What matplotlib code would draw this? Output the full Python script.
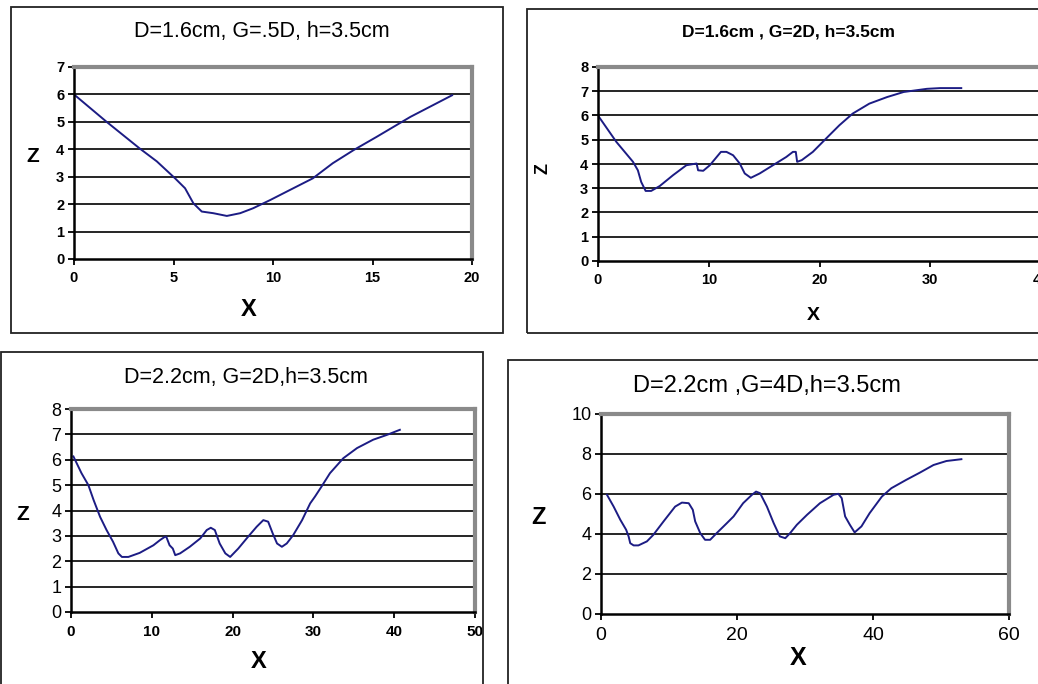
import matplotlib
matplotlib.use("Agg")
import matplotlib.pyplot as plt
from matplotlib.patches import Rectangle

plt.rcParams['font.family'] = ['Liberation Sans', 'DejaVu Sans']

W, H = 1038, 684

# scour profiles, x vs z
x1 = [0, 1.64, 3.3, 4.16, 5.08, 5.58, 6.0, 6.42, 7.0, 7.68, 8.35, 9.0, 9.86,
      10.86, 12.0, 13.0, 14.05, 15.2, 16.9, 19.0]
z1 = [6.0, 5.0, 4.03, 3.56, 2.94, 2.58, 2.03, 1.73, 1.67, 1.57, 1.67, 1.85, 2.15,
      2.52, 2.94, 3.49, 3.97, 4.45, 5.18, 5.97]

x2 = [0, 1.66, 3.16, 3.6, 3.9, 4.3, 4.8, 5.57, 6.78, 7.98, 8.9, 9.04, 9.5, 10.1,
      11.1, 11.6, 12.2, 12.8, 13.25, 13.8, 14.6, 15.8, 17.0, 17.6, 17.86, 17.98,
      18.4, 19.4, 20.9, 21.8, 23.0, 24.5, 26.1, 27.6, 29.7, 30.9, 32.8]
z2 = [6.0, 4.91, 4.09, 3.74, 3.26, 2.89, 2.89, 3.09, 3.54, 3.95, 4.02, 3.74, 3.72,
      3.95, 4.5, 4.5, 4.36, 4.02, 3.61, 3.43, 3.61, 3.95, 4.29, 4.5, 4.5, 4.09,
      4.16, 4.5, 5.19, 5.6, 6.08, 6.49, 6.76, 6.97, 7.1, 7.13, 7.13]

x3 = [0.3, 1.3, 2.15, 2.8, 3.6, 4.4, 5.2, 5.86, 6.3, 7.1, 8.5, 10.2, 11.0, 11.6,
      11.8, 12.2, 12.6, 12.9, 13.5, 14.7, 16.0, 16.8, 17.3, 17.8, 18.4, 19.1, 19.7,
      20.7, 21.9, 22.98, 23.8, 24.4, 24.96, 25.5, 26.1, 26.7, 27.5, 28.6, 29.6,
      30.2, 31.0, 32.05, 33.7, 35.4, 37.4, 39.1, 40.7]
z3 = [6.13, 5.47, 5.0, 4.41, 3.75, 3.23, 2.77, 2.31, 2.17, 2.17, 2.33, 2.63, 2.83,
      2.96, 2.96, 2.63, 2.5, 2.24, 2.31, 2.57, 2.9, 3.23, 3.32, 3.23, 2.7, 2.31,
      2.17, 2.5, 2.96, 3.36, 3.62, 3.56, 3.1, 2.7, 2.57, 2.7, 3.03, 3.62, 4.28,
      4.55, 4.94, 5.47, 6.06, 6.46, 6.79, 6.98, 7.18]

x4 = [0.88, 1.86, 2.84, 3.7, 4.06, 4.3, 4.8, 5.5, 6.75, 7.7, 9.2, 10.9, 11.9, 12.9,
      13.5, 13.85, 14.6, 15.3, 16.05, 17.0, 18.5, 19.5, 20.9, 22.2, 22.8, 23.4,
      24.4, 25.4, 26.3, 27.1, 27.8, 28.8, 30.3, 32.2, 34.2, 34.9, 35.4, 35.9,
      36.6, 37.3, 38.3, 39.5, 41.3, 42.7, 44.9, 46.9, 48.9, 50.8, 53.0]
z4 = [5.96, 5.37, 4.71, 4.21, 3.88, 3.54, 3.43, 3.43, 3.63, 3.96, 4.63, 5.37, 5.57,
      5.54, 5.21, 4.63, 4.04, 3.71, 3.71, 4.04, 4.54, 4.88, 5.54, 5.96, 6.12, 6.04,
      5.37, 4.54, 3.88, 3.79, 4.04, 4.46, 4.96, 5.54, 5.96, 6.01, 5.79, 4.88,
      4.46, 4.08, 4.38, 5.04, 5.87, 6.29, 6.71, 7.07, 7.45, 7.65, 7.74]

titles = ['D=1.6cm, G=.5D, h=3.5cm', 'D=1.6cm , G=2D, h=3.5cm',
          'D=2.2cm, G=2D,h=3.5cm', 'D=2.2cm ,G=4D,h=3.5cm']

LINE = '#1c1c84'

fig = plt.figure(figsize=(W / 100, H / 100), dpi=100)
fig.patch.set_facecolor('white')


def px_box(left, top, right, bottom):
    # pixel box (top-left origin) -> figure fraction rect
    return [left / W, 1 - bottom / H, (right - left) / W, (bottom - top) / H]


def frame(left, top, right, bottom):
    r = Rectangle((left / W, 1 - bottom / H), (right - left) / W, (bottom - top) / H,
                  transform=fig.transFigure, fill=False, edgecolor='#222222', lw=1.3)
    fig.patches.append(r)


def panel(box, x, z, xmax, ymax, ystep, xstep, tick_fs, tick_w, xtick_fs, xtick_w):
    ax = fig.add_axes(px_box(*box))
    ax.plot(x, z, color=LINE, lw=1.4)
    ax.set_xlim(0, xmax)
    ax.set_ylim(0, ymax)
    ax.set_yticks(range(0, ymax + 1, ystep))
    ax.set_xticks(range(0, xmax + 1, xstep))
    for v in range(ystep, ymax, ystep):
        ax.axhline(v, color='black', lw=1.2, zorder=1)
    for s in ['top', 'right']:
        ax.spines[s].set_color('#8a8a8a')
        ax.spines[s].set_linewidth(3)
    for s in ['left', 'bottom']:
        ax.spines[s].set_color('black')
        ax.spines[s].set_linewidth(1.8)
    ax.tick_params(direction='out', length=4, width=1.3, color='black', pad=3)
    ax.tick_params(axis='x', pad=5)
    for t in ax.get_yticklabels():
        t.set_fontsize(tick_fs)
        t.set_fontweight(tick_w)
    for t in ax.get_xticklabels():
        t.set_fontsize(xtick_fs)
        t.set_fontweight(xtick_w)
    return ax


# top-left
frame(11, 7, 503, 333)
panel((74, 67, 472, 259), x1, z1, 20, 7, 1, 5, 10.5, 'bold', 10.5, 'bold')
fig.text(262 / W, 1 - 32 / H, titles[0], ha='center', va='center', fontsize=15.5)
fig.text(33 / W, 1 - 156 / H, 'Z', ha='center', va='center', fontsize=15, fontweight='bold')
fig.text(249 / W, 1 - 310 / H, 'X', ha='center', va='center', fontsize=17, fontweight='bold')

# top-right
frame(527, 9, 1060, 333)
panel((598, 67, 1041, 261), x2, z2, 40, 8, 1, 10, 10.5, 'bold', 10.5, 'bold')
fig.text(789 / W, 1 - 32 / H, titles[1], ha='center', va='center', fontsize=12.5, fontweight='bold')
fig.text(543 / W, 1 - 168 / H, 'Z', ha='center', va='center', fontsize=13,
         fontweight='bold', rotation=90)
fig.text(813 / W, 1 - 315 / H, 'X', ha='center', va='center', fontsize=14, fontweight='bold')

# bottom-left
frame(1, 352, 483, 700)
panel((71, 409, 475, 612), x3, z3, 50, 8, 1, 10, 13, 'normal', 11, 'bold')
fig.text(246 / W, 1 - 377 / H, titles[2], ha='center', va='center', fontsize=15.5)
fig.text(23 / W, 1 - 515 / H, 'Z', ha='center', va='center', fontsize=15, fontweight='bold')
fig.text(259 / W, 1 - 662 / H, 'X', ha='center', va='center', fontsize=17, fontweight='bold')

# bottom-right
frame(508, 360, 1060, 700)
panel((601, 414, 1009, 614), x4, z4, 60, 10, 2, 20, 13, 'normal', 14, 'normal')
fig.text(767 / W, 1 - 386 / H, titles[3], ha='center', va='center', fontsize=17)
fig.text(538 / W, 1 - 518 / H, 'Z', ha='center', va='center', fontsize=17, fontweight='bold')
fig.text(798 / W, 1 - 658 / H, 'X', ha='center', va='center', fontsize=18, fontweight='bold')

fig.savefig('out.png', dpi=100)
